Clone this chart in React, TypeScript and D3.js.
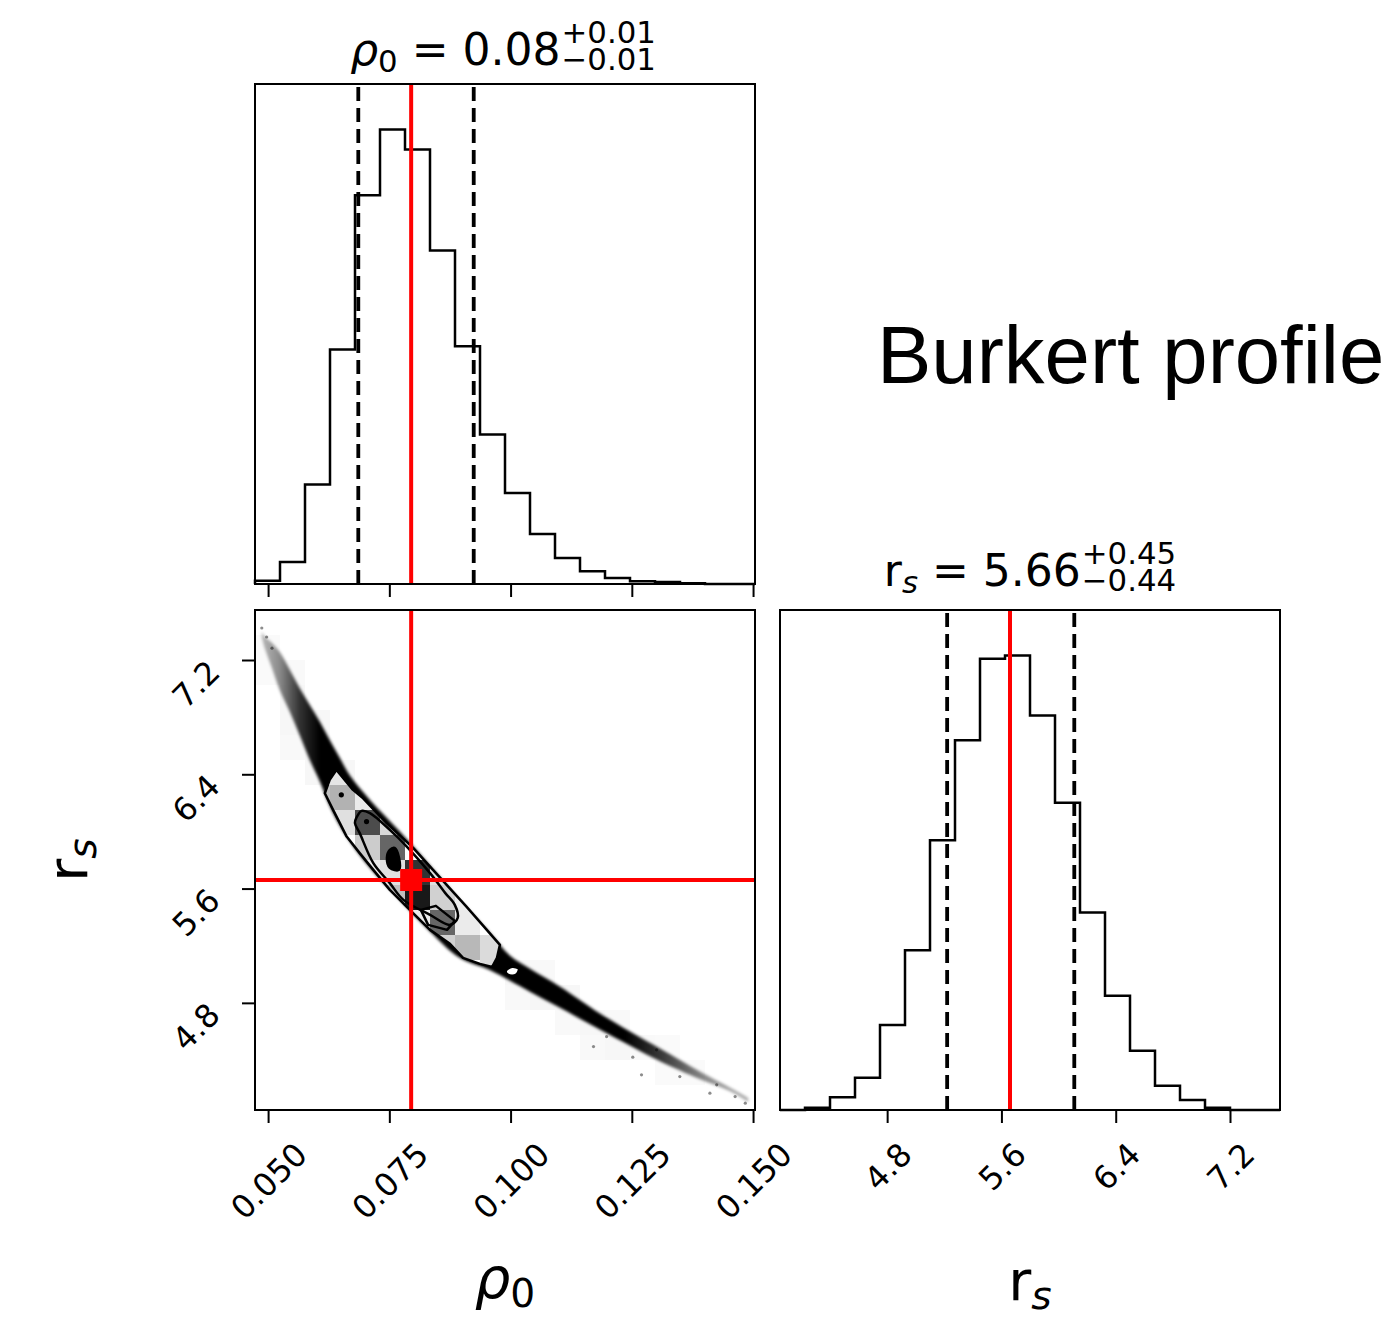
import React, { useEffect, useRef } from "react";
import * as d3 from "d3";

// ---------------- data ----------------
const rhoDomain: [number, number] = [0.0473, 0.1504];
const rsDomain: [number, number] = [4.05, 7.55];
const rhoTicks = [0.05, 0.075, 0.1, 0.125, 0.15];
const rhoTickLabels = ["0.050", "0.075", "0.100", "0.125", "0.150"];
const rsTicks = [4.8, 5.6, 6.4, 7.2];
const rsTickLabels = ["4.8", "5.6", "6.4", "7.2"];

// 1-D marginal histograms (20 bins each, relative counts)
const rhoCounts = [10, 66, 298, 703, 1166, 1363, 1303, 1000, 713, 448, 273, 150, 78, 38, 18, 8, 6, 2, 0, 0];
const rsCounts = [0, 7, 38, 97, 255, 480, 810, 1110, 1355, 1365, 1185, 923, 593, 343, 178, 73, 30, 7, 0, 0];

const rhoQuantiles = [0.0686, 0.0924];
const rsQuantiles = [5.22, 6.11];
const rhoTruth = 0.0795;
const rsTruth = 5.66;

const rhoTitleValue = ["0.08", "+0.01", "\u22120.01"];
const rsTitleValue = ["5.66", "+0.45", "\u22120.44"];
const sideLabel = "Burkert profile";

// 2-D posterior: extent of the sample cloud (upper / lower r_s edge at given rho0)
const bandRho = [0.0487, 0.0493, 0.0508, 0.0524, 0.0545, 0.0565, 0.0586, 0.0607, 0.0627, 0.0648, 0.0669, 0.071, 0.0772, 0.0834, 0.0895, 0.0957, 0.0999, 0.104, 0.1102, 0.1185, 0.1247, 0.1309, 0.1391, 0.1453, 0.149];
const bandUpper = [7.4, 7.367, 7.319, 7.256, 7.13, 7.004, 6.885, 6.766, 6.64, 6.514, 6.389, 6.22, 5.997, 5.76, 5.52, 5.29, 5.129, 5.038, 4.912, 4.723, 4.597, 4.478, 4.317, 4.205, 4.135];
const bandLower = [7.36, 7.284, 7.144, 6.99, 6.836, 6.675, 6.5, 6.347, 6.179, 6.04, 5.93, 5.745, 5.52, 5.3, 5.115, 5.03, 4.955, 4.878, 4.765, 4.612, 4.5, 4.39, 4.266, 4.182, 4.107];

// sparse individual samples in the tails
const tailRho = [0.0487, 0.0497, 0.0508, 0.1171, 0.1198, 0.1252, 0.127, 0.1301, 0.1349, 0.1411, 0.1425, 0.1463, 0.1484];
const tailRs = [7.424, 7.361, 7.283, 4.494, 4.564, 4.42, 4.296, 4.471, 4.284, 4.168, 4.226, 4.144, 4.098];

// 2-D histogram cells [rho bin, rs bin, shade]
const densityCells: [number, number, number][] = [
  [2, 12, 0.25], [3, 13, 0.1], [3, 12, 0.3], [3, 11, 0.12], [4, 12, 0.08], [4, 11, 0.7], [4, 10, 0.2], [4, 9, 0.08],
  [5, 11, 0.15], [5, 10, 0.6], [5, 9, 0.12], [5, 8, 0.25], [6, 9, 0.8], [6, 8, 0.9], [6, 7, 0.08],
  [7, 9, 0.12], [7, 8, 0.18], [7, 7, 0.6], [7, 6, 0.18], [8, 8, 0.08], [8, 7, 0.08], [8, 6, 0.28],
  [9, 6, 0.14], [9, 5, 0.14],
];
const faintCells: [number, number, number][] = [
  [0, 18, 0.02], [0, 17, 0.02], [1, 17, 0.025], [1, 16, 0.03], [1, 15, 0.03], [1, 14, 0.025], [2, 15, 0.03], [2, 14, 0.035],
  [2, 13, 0.03], [3, 13, 0.03], [10, 5, 0.03], [10, 4, 0.025], [11, 5, 0.025], [11, 4, 0.035], [12, 4, 0.03], [12, 3, 0.025],
  [13, 3, 0.03], [13, 2, 0.025], [14, 3, 0.025], [14, 2, 0.03], [15, 2, 0.025], [16, 2, 0.02], [16, 1, 0.02], [17, 1, 0.02],
];

// contour lines [rho0, r_s]
const contourOuter: [number, number][] = [
  [0.0641, 6.431], [0.0675, 6.291], [0.0696, 6.232], [0.0744, 6.058], [0.0799, 5.885], [0.084, 5.731], [0.0909, 5.474],
  [0.0978, 5.206], [0.0972, 5.115], [0.0962, 5.052], [0.0937, 5.073], [0.0902, 5.115], [0.0875, 5.213], [0.0834, 5.311],
  [0.0799, 5.428], [0.0751, 5.591], [0.0717, 5.731], [0.0689, 5.848], [0.0662, 5.964], [0.0648, 6.058], [0.0634, 6.151],
  [0.0617, 6.267], [0.0627, 6.361],
];
const contourMid: [number, number][] = [
  [0.0682, 6.095], [0.0693, 6.144], [0.071, 6.128], [0.0751, 6.011], [0.0786, 5.894], [0.0834, 5.708], [0.0865, 5.57],
  [0.0885, 5.486], [0.0891, 5.395], [0.0875, 5.346], [0.0834, 5.416], [0.0779, 5.521], [0.0751, 5.638], [0.0717, 5.778],
  [0.0689, 5.988], [0.0679, 6.06],
];
const contourQuad: [number, number][] = [[0.0815, 5.451], [0.0846, 5.479], [0.0885, 5.374], [0.0869, 5.311], [0.083, 5.346]];
const contourBlob: [number, number][] = [[0.0751, 5.871], [0.0761, 5.885], [0.077, 5.815], [0.077, 5.731], [0.0751, 5.745], [0.0745, 5.815]];
const contourLoop: [number, number][] = [[0.099, 5.024], [0.1003, 5.052], [0.1017, 5.038], [0.1011, 4.996], [0.0995, 4.996]];
const contourDots: [number, number][] = [[0.0651, 6.256], [0.0703, 6.069]];

// ---------------- drawing ----------------
const FONT = "'DejaVu Sans', sans-serif";

type Piece = { t: string; italic?: boolean; sub?: boolean };

export default function App() {
  const ref = useRef<SVGSVGElement>(null);

  useEffect(() => {
    const svg = d3.select(ref.current!);
    svg.selectAll("*").remove();

    const P1 = { x0: 255, x1: 755, y0: 84, y1: 584 };
    const P2 = { x0: 255, x1: 755, y0: 610, y1: 1110 };
    const P3 = { x0: 780, x1: 1280, y0: 610, y1: 1110 };

    const xRho = d3.scaleLinear().domain(rhoDomain).range([P2.x0, P2.x1]);
    const yRs = d3.scaleLinear().domain(rsDomain).range([P2.y1, P2.y0]);
    const xRs = d3.scaleLinear().domain(rsDomain).range([P3.x0, P3.x1]);
    const yC1 = d3.scaleLinear().domain([0, 1.1 * (d3.max(rhoCounts) as number)]).range([P1.y1, P1.y0]);
    const yC3 = d3.scaleLinear().domain([0, 1.1 * (d3.max(rsCounts) as number)]).range([P3.y1, P3.y0]);

    svg.append("rect").attr("width", 1400).attr("height", 1320).attr("fill", "#fff");

    const defs = svg.append("defs");
    const grad = defs.append("linearGradient").attr("id", "bandGrad").attr("gradientUnits", "userSpaceOnUse")
      .attr("x1", P2.x0).attr("x2", P2.x1).attr("y1", 0).attr("y2", 0);
    ([[0, 0.2], [0.05, 0.45], [0.09, 0.8], [0.13, 1], [0.74, 1], [0.82, 0.75], [0.9, 0.45], [1, 0.3]] as number[][])
      .forEach(([o, a]) => grad.append("stop").attr("offset", o).attr("stop-color", "#000").attr("stop-opacity", a));
    const filt = defs.append("filter").attr("id", "fuzz").attr("x", "-10%").attr("y", "-10%").attr("width", "120%").attr("height", "120%");
    filt.append("feGaussianBlur").attr("stdDeviation", 1.8);
    defs.append("clipPath").attr("id", "clip2").append("rect")
      .attr("x", P2.x0).attr("y", P2.y0).attr("width", P2.x1 - P2.x0).attr("height", P2.y1 - P2.y0);

    const closed = d3.line<[number, number]>().x((d) => xRho(d[0])).y((d) => yRs(d[1])).curve(d3.curveLinearClosed);
    defs.append("clipPath").attr("id", "clipC1").append("path").attr("d", closed(contourOuter) as string);

    // ---------- histogram helper ----------
    function stepHist(counts: number[], xs: d3.ScaleLinear<number, number>, ys: d3.ScaleLinear<number, number>, dom: [number, number]) {
      const n = counts.length;
      const edges = d3.range(n + 1).map((k) => dom[0] + (k * (dom[1] - dom[0])) / n);
      const pts: [number, number][] = [[edges[0], 0]];
      counts.forEach((c, i) => { pts.push([edges[i], c]); pts.push([edges[i + 1], c]); });
      pts.push([edges[n], 0]);
      return d3.line<[number, number]>().x((d) => xs(d[0])).y((d) => ys(d[1]))(pts) as string;
    }

    const RED_W = 4;
    const DASH_W = 3.8;
    const HIST_W = 2.5;

    // ---------- top panel ----------
    const g1 = svg.append("g");
    g1.append("path").attr("d", stepHist(rhoCounts, xRho, yC1, rhoDomain)).attr("fill", "none")
      .attr("stroke", "#000").attr("stroke-width", HIST_W);
    rhoQuantiles.forEach((q) => g1.append("line").attr("x1", xRho(q)).attr("x2", xRho(q)).attr("y1", P1.y1).attr("y2", P1.y0)
      .attr("stroke", "#000").attr("stroke-width", DASH_W).attr("stroke-dasharray", "14 7"));
    g1.append("line").attr("x1", xRho(rhoTruth)).attr("x2", xRho(rhoTruth)).attr("y1", P1.y1).attr("y2", P1.y0)
      .attr("stroke", "#ff0000").attr("stroke-width", RED_W);

    // ---------- right panel ----------
    const g3 = svg.append("g");
    g3.append("path").attr("d", stepHist(rsCounts, xRs, yC3, rsDomain)).attr("fill", "none")
      .attr("stroke", "#000").attr("stroke-width", HIST_W);
    rsQuantiles.forEach((q) => g3.append("line").attr("x1", xRs(q)).attr("x2", xRs(q)).attr("y1", P3.y1).attr("y2", P3.y0)
      .attr("stroke", "#000").attr("stroke-width", DASH_W).attr("stroke-dasharray", "14 7"));
    g3.append("line").attr("x1", xRs(rsTruth)).attr("x2", xRs(rsTruth)).attr("y1", P3.y1).attr("y2", P3.y0)
      .attr("stroke", "#ff0000").attr("stroke-width", RED_W);

    // ---------- 2-D panel ----------
    const g2 = svg.append("g").attr("clip-path", "url(#clip2)");
    const bw = (rhoDomain[1] - rhoDomain[0]) / 20;
    const bh = (rsDomain[1] - rsDomain[0]) / 20;
    const cellRect = (sel: d3.Selection<SVGGElement, unknown, null, undefined>, cells: [number, number, number][]) =>
      sel.selectAll("rect.c").data(cells).enter().append("rect")
        .attr("x", (d) => xRho(rhoDomain[0] + d[0] * bw))
        .attr("y", (d) => yRs(rsDomain[0] + (d[1] + 1) * bh))
        .attr("width", (d) => xRho(rhoDomain[0] + (d[0] + 1) * bw) - xRho(rhoDomain[0] + d[0] * bw))
        .attr("height", (d) => yRs(rsDomain[0] + d[1] * bh) - yRs(rsDomain[0] + (d[1] + 1) * bh))
        .attr("fill", "#000").attr("fill-opacity", (d) => d[2]).attr("shape-rendering", "crispEdges");

    cellRect(g2.append("g"), faintCells);

    const bandData = bandRho.map((r, i) => ({ r, u: bandUpper[i], l: bandLower[i] }));
    const area = d3.area<{ r: number; u: number; l: number }>()
      .x((d) => xRho(d.r)).y0((d) => yRs(d.l)).y1((d) => yRs(d.u)).curve(d3.curveCatmullRom);
    g2.append("path").attr("d", area(bandData) as string).attr("fill", "url(#bandGrad)").attr("filter", "url(#fuzz)");
    g2.selectAll("circle.tail").data(tailRho).enter().append("circle")
      .attr("cx", (d) => xRho(d)).attr("cy", (_d, i) => yRs(tailRs[i])).attr("r", 1.6)
      .attr("fill", "#000").attr("fill-opacity", 0.45);

    // white fill inside outermost contour, then density cells
    g2.append("path").attr("d", closed(contourOuter) as string).attr("fill", "#fff");
    cellRect(g2.append("g").attr("clip-path", "url(#clipC1)"), densityCells);

    const cStroke = (p: string, fill = "none") =>
      g2.append("path").attr("d", p).attr("fill", fill).attr("stroke", "#000").attr("stroke-width", 2.5).attr("stroke-linejoin", "round");
    const smooth = d3.line<[number, number]>().x((d) => xRho(d[0])).y((d) => yRs(d[1])).curve(d3.curveCatmullRomClosed);
    cStroke(closed(contourOuter) as string);
    cStroke(smooth(contourMid) as string);
    cStroke(closed(contourQuad) as string);
    cStroke(smooth(contourBlob) as string, "#000");
    cStroke(smooth(contourLoop) as string, "#fff");
    contourDots.forEach((d) => g2.append("circle").attr("cx", xRho(d[0])).attr("cy", yRs(d[1])).attr("r", 2.6).attr("fill", "#000"));

    g2.append("line").attr("x1", xRho(rhoTruth)).attr("x2", xRho(rhoTruth)).attr("y1", P2.y0).attr("y2", P2.y1)
      .attr("stroke", "#ff0000").attr("stroke-width", RED_W);
    g2.append("line").attr("x1", P2.x0).attr("x2", P2.x1).attr("y1", yRs(rsTruth)).attr("y2", yRs(rsTruth))
      .attr("stroke", "#ff0000").attr("stroke-width", RED_W);
    g2.append("rect").attr("x", xRho(rhoTruth) - 11).attr("y", yRs(rsTruth) - 11).attr("width", 22).attr("height", 22).attr("fill", "#ff0000");

    // ---------- frames ----------
    [P1, P2, P3].forEach((P) => svg.append("rect").attr("x", P.x0).attr("y", P.y0).attr("width", P.x1 - P.x0)
      .attr("height", P.y1 - P.y0).attr("fill", "none").attr("stroke", "#000").attr("stroke-width", 2));

    // ---------- axes ----------
    const TICK = 13;
    const LBL = 32;
    const Hc = 0.729 * LBL;
    function styleBottom(ax: d3.Selection<SVGGElement, unknown, null, undefined>) {
      ax.select(".domain").remove();
      ax.selectAll("line").attr("stroke", "#000").attr("stroke-width", 2);
      ax.selectAll<SVGTextElement, unknown>("text").each(function () {
        const t = d3.select(this);
        t.attr("x", 0).attr("y", 0).attr("dy", null).attr("text-anchor", "end")
          .attr("font-size", LBL).attr("font-family", FONT).attr("fill", "#000");
        const L = this.getComputedTextLength();
        t.attr("transform", `translate(${0.3536 * (L + Hc)},${30 + 0.7071 * Hc}) rotate(-45)`);
      });
    }
    const axTop = svg.append("g").attr("transform", `translate(0,${P1.y1})`)
      .call(d3.axisBottom(xRho).tickValues(rhoTicks).tickSize(TICK).tickSizeOuter(0).tickFormat(() => ""));
    axTop.select(".domain").remove();
    axTop.selectAll("line").attr("stroke", "#000").attr("stroke-width", 2);

    const axB2 = svg.append("g").attr("transform", `translate(0,${P2.y1})`)
      .call(d3.axisBottom(xRho).tickValues(rhoTicks).tickSize(TICK).tickSizeOuter(0).tickFormat((_d, i) => rhoTickLabels[i]));
    styleBottom(axB2);
    const axB3 = svg.append("g").attr("transform", `translate(0,${P3.y1})`)
      .call(d3.axisBottom(xRs).tickValues(rsTicks).tickSize(TICK).tickSizeOuter(0).tickFormat((_d, i) => rsTickLabels[i]));
    styleBottom(axB3);

    const axL = svg.append("g").attr("transform", `translate(${P2.x0},0)`)
      .call(d3.axisLeft(yRs).tickValues(rsTicks).tickSize(TICK).tickSizeOuter(0).tickFormat((_d, i) => rsTickLabels[i]));
    axL.select(".domain").remove();
    axL.selectAll("line").attr("stroke", "#000").attr("stroke-width", 2);
    axL.selectAll<SVGTextElement, unknown>("text").attr("x", 0).attr("y", 0).attr("dy", null).attr("text-anchor", "end")
      .attr("font-size", LBL).attr("font-family", FONT).attr("fill", "#000")
      .attr("transform", `translate(-33,${0.7071 * Hc - 3}) rotate(-45)`);

    // ---------- math text helpers ----------
    function addPieces(t: d3.Selection<SVGTextElement, unknown, null, undefined>, pieces: Piece[], size: number) {
      let shifted = 0;
      pieces.forEach((p) => {
        const ts = t.append("tspan").text(p.t);
        if (p.italic) ts.attr("font-style", "italic");
        const target = p.sub ? size * 0.16 : 0;
        if (target !== shifted) { ts.attr("dy", target - shifted); shifted = target; }
        if (p.sub) ts.attr("font-size", size * 0.7);
      });
    }
    function mathText(parent: d3.Selection<any, unknown, null, undefined>, pieces: Piece[], size: number) {
      const t = parent.append("text").attr("font-family", FONT).attr("font-size", size).attr("fill", "#000");
      addPieces(t, pieces, size);
      return t;
    }
    function title(cx: number, baseY: number, pieces: Piece[], vals: string[], size: number) {
      const grp = svg.append("g");
      const main = mathText(grp, [...pieces, { t: " = " + vals[0] }], size).attr("x", 0).attr("y", baseY);
      const L = (main.node() as SVGTextElement).getComputedTextLength();
      const s2 = size * 0.7;
      // super- and subscript stacked after the value, in one text element
      const scripts = grp.append("text").attr("font-size", s2).attr("font-family", FONT).attr("fill", "#000");
      const sup = scripts.append("tspan").attr("x", L + 1).attr("y", baseY - size * 0.5).text(vals[1]);
      const sub = scripts.append("tspan").attr("x", L + 1).attr("y", baseY + size * 0.12).text(vals[2]);
      const w = L + 1 + Math.max((sup.node() as SVGTSpanElement).getComputedTextLength(), (sub.node() as SVGTSpanElement).getComputedTextLength());
      grp.attr("transform", `translate(${cx - w / 2},0)`);
    }

    const rhoPieces: Piece[] = [{ t: "\u03C1", italic: true }, { t: "0", sub: true }];
    const rsPieces: Piece[] = [{ t: "r" }, { t: "s", sub: true, italic: true }];

    title((P1.x0 + P1.x1) / 2 - 2, 65, rhoPieces, rhoTitleValue, 44);
    title((P3.x0 + P3.x1) / 2, 586, rsPieces, rsTitleValue, 44);

    mathText(svg, rhoPieces, 56).attr("x", (P2.x0 + P2.x1) / 2).attr("y", 1298).attr("text-anchor", "middle");
    mathText(svg, rsPieces, 56).attr("x", (P3.x0 + P3.x1) / 2).attr("y", 1300).attr("text-anchor", "middle");
    const left = svg.append("g").attr("transform", `translate(87,${(P2.y0 + P2.y1) / 2}) rotate(-90)`);
    mathText(left, rsPieces, 56).attr("x", 0).attr("y", 0).attr("text-anchor", "middle");

    svg.append("text").attr("x", 877).attr("y", 383).attr("font-family", "'Liberation Sans', Arial, sans-serif")
      .attr("font-size", 81.5).attr("fill", "#000").text(sideLabel);
  }, []);

  return (
    <svg ref={ref} width={1400} height={1320}
      style={{ position: "absolute", left: 0, top: 0, display: "block" }} />
  );
}
